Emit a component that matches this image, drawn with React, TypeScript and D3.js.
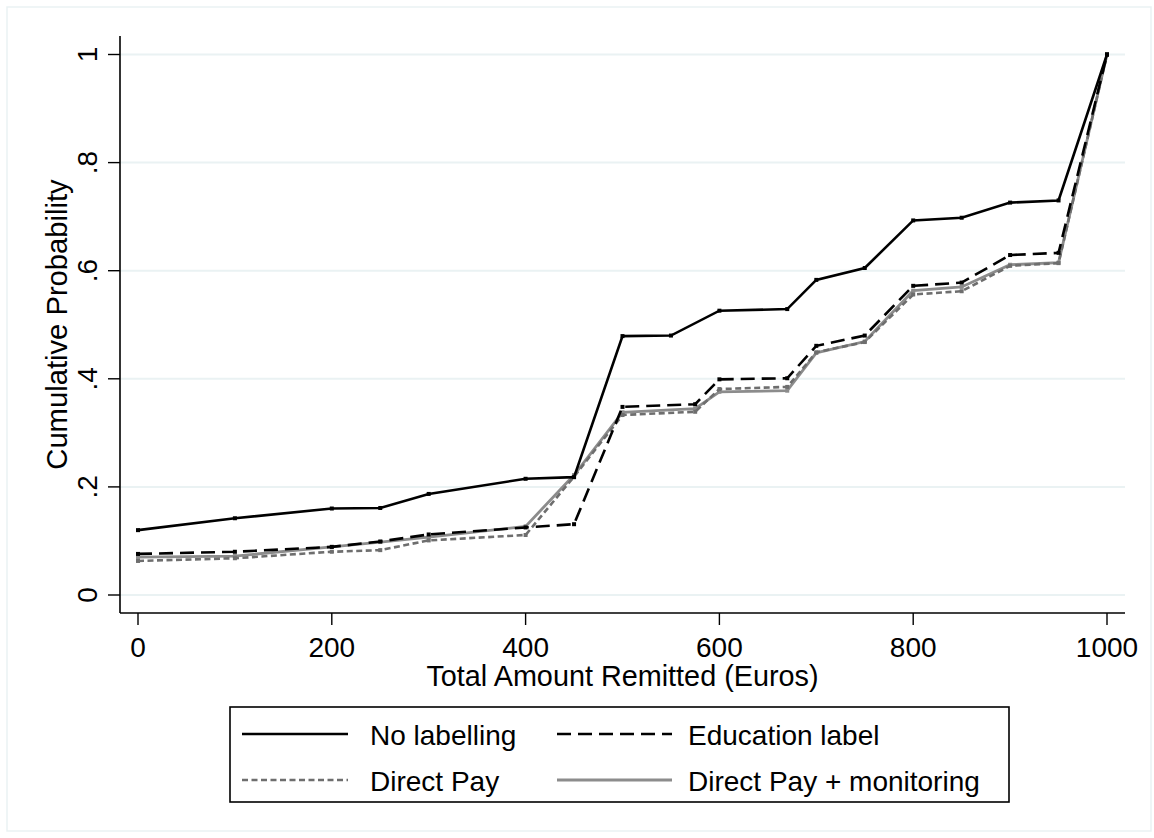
import React from "react";
import * as d3 from "d3";

// amounts (euros) where each empirical CDF has a step
const amountsNoLabel = [0, 100, 200, 250, 300, 400, 450, 500, 550, 600, 670, 700, 750, 800, 850, 900, 950, 1000];
const amountsTreated = [0, 100, 200, 250, 300, 400, 450, 500, 575, 600, 670, 700, 750, 800, 850, 900, 950, 1000];

const probNoLabel = [0.12, 0.142, 0.16, 0.161, 0.187, 0.215, 0.218, 0.479, 0.48, 0.526, 0.529, 0.583, 0.605, 0.693, 0.698, 0.726, 0.73, 1];
const probEducation = [0.076, 0.08, 0.089, 0.099, 0.112, 0.125, 0.131, 0.348, 0.353, 0.399, 0.401, 0.461, 0.48, 0.572, 0.578, 0.629, 0.633, 1];
const probDirectPay = [0.063, 0.068, 0.08, 0.083, 0.101, 0.111, 0.219, 0.333, 0.339, 0.381, 0.385, 0.449, 0.468, 0.556, 0.562, 0.609, 0.614, 1];
const probMonitoring = [0.07, 0.072, 0.089, 0.098, 0.107, 0.127, 0.222, 0.338, 0.345, 0.376, 0.378, 0.448, 0.469, 0.563, 0.57, 0.611, 0.615, 1];

const xTicks = [0, 200, 400, 600, 800, 1000];
const yTicks = [0, 0.2, 0.4, 0.6, 0.8, 1];
const yTickLabels = ["0", ".2", ".4", ".6", ".8", "1"];

const seriesNames = ["No labelling", "Education label", "Direct Pay", "Direct Pay + monitoring"];

const W = 1154;
const H = 838;
const FONT = "'Liberation Sans', Arial, Helvetica, sans-serif";
const GRID = "#eaf2f3";

type Style = { color: string; dash?: string; width: number };

export default function App() {
  const plot = { left: 120, right: 1125, top: 36, bottom: 613 };
  const x = d3.scaleLinear().domain([0, 1000]).range([138, 1107]);
  const y = d3.scaleLinear().domain([0, 1]).range([595, 54.5]);

  const line = d3
    .line<[number, number]>()
    .x((d) => x(d[0]))
    .y((d) => y(d[1]));

  const styles: Style[] = [
    { color: "#000000", width: 2.6 },
    { color: "#000000", width: 2.6, dash: "14 7" },
    { color: "#6e6e6e", width: 2.6, dash: "6 3.5" },
    { color: "#8c8c8c", width: 2.8 },
  ];

  const series: [number, number][][] = [
    d3.zip(amountsNoLabel, probNoLabel) as [number, number][],
    d3.zip(amountsTreated, probEducation) as [number, number][],
    d3.zip(amountsTreated, probDirectPay) as [number, number][],
    d3.zip(amountsTreated, probMonitoring) as [number, number][],
  ];

  // draw order: lightest underneath
  const order = [3, 2, 1, 0];

  const legend = { x: 230, y: 707, w: 779, h: 95 };
  const legendCols = [
    { lx0: 242, lx1: 348, tx: 370 },
    { lx0: 557, lx1: 672, tx: 688 },
  ];
  const legendRows = [734, 780];

  return (
    <svg
      width={W}
      height={H}
      style={{ position: "absolute", left: 0, top: 0, background: "#fff" }}
      fontFamily={FONT}
    >
      <rect x={7} y={7} width={1144} height={824} fill="#fff" stroke={GRID} strokeWidth={1.5} />

      {/* grid */}
      {yTicks.map((t) => (
        <line key={"g" + t} x1={plot.left} x2={plot.right} y1={y(t)} y2={y(t)} stroke={GRID} strokeWidth={2} />
      ))}

      {/* series */}
      {order.map((i) => (
        <g key={"s" + i}>
          <path
            d={line(series[i]) || ""}
            fill="none"
            stroke={styles[i].color}
            strokeWidth={styles[i].width}
            strokeDasharray={styles[i].dash}
            strokeLinejoin="miter"
          />
          {series[i].map((d, j) => (
            <rect
              key={j}
              x={x(d[0]) - 2}
              y={y(d[1]) - 2}
              width={4}
              height={4}
              fill={styles[i].color}
            />
          ))}
        </g>
      ))}

      {/* axes */}
      <line x1={plot.left} x2={plot.left} y1={plot.top} y2={plot.bottom} stroke="#000" strokeWidth={1.6} />
      <line x1={plot.left} x2={plot.right} y1={plot.bottom} y2={plot.bottom} stroke="#000" strokeWidth={1.6} />

      {yTicks.map((t, i) => (
        <g key={"y" + t}>
          <line x1={plot.left - 12} x2={plot.left} y1={y(t)} y2={y(t)} stroke="#000" strokeWidth={1.4} />
          <text
            transform={`translate(97,${y(t)}) rotate(-90)`}
            textAnchor="middle"
            fontSize={28}
            fill="#000"
          >
            {yTickLabels[i]}
          </text>
        </g>
      ))}

      {xTicks.map((t) => (
        <g key={"x" + t}>
          <line x1={x(t)} x2={x(t)} y1={plot.bottom} y2={plot.bottom + 12} stroke="#000" strokeWidth={1.4} />
          <text x={x(t)} y={657} textAnchor="middle" fontSize={28} fill="#000">
            {t}
          </text>
        </g>
      ))}

      <text x={(plot.left + plot.right) / 2} y={686} textAnchor="middle" fontSize={28.8} fill="#000">
        Total Amount Remitted (Euros)
      </text>
      <text
        transform={`translate(67,${(plot.top + plot.bottom) / 2}) rotate(-90)`}
        textAnchor="middle"
        fontSize={29.2}
        fill="#000"
      >
        Cumulative Probability
      </text>

      {/* legend */}
      <rect x={legend.x} y={legend.y} width={legend.w} height={legend.h} fill="#fff" stroke="#000" strokeWidth={1.6} />
      {seriesNames.map((name, i) => {
        const col = legendCols[i % 2];
        const row = legendRows[Math.floor(i / 2)];
        return (
          <g key={"l" + i}>
            <line
              x1={col.lx0}
              x2={col.lx1}
              y1={row}
              y2={row}
              stroke={styles[i].color}
              strokeWidth={styles[i].width}
              strokeDasharray={styles[i].dash}
            />
            <text x={col.tx} y={row + 11} fontSize={28} fill="#000">
              {name}
            </text>
          </g>
        );
      })}
    </svg>
  );
}
